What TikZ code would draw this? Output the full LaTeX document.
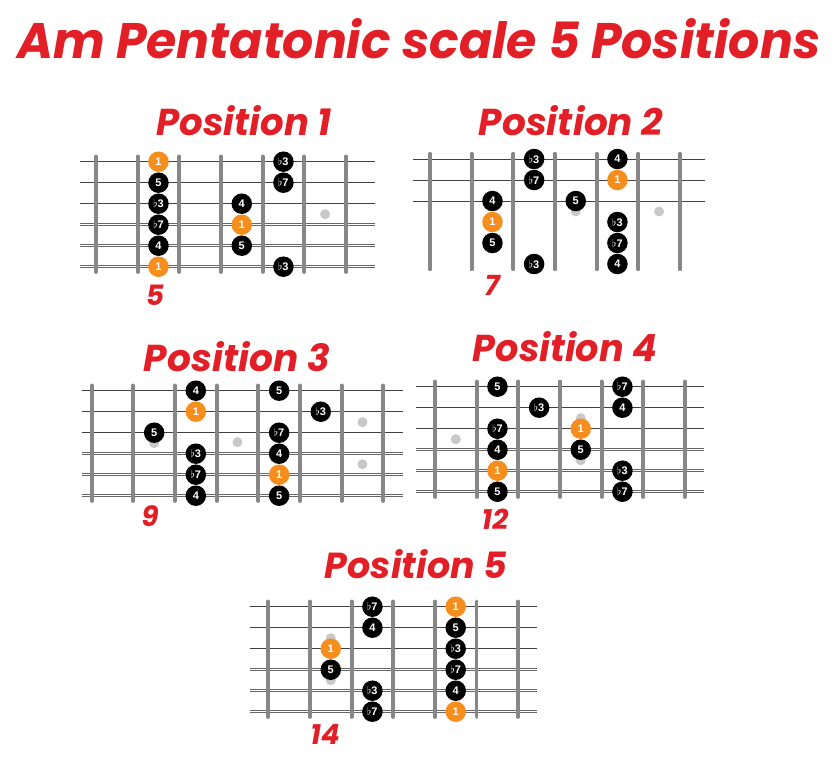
\documentclass[tikz,border=0pt]{standalone}
\usepackage{fontspec}
\setmainfont{Liberation Sans}
\newfontfamily\headfont{Poppins}
\definecolor{titlered}{RGB}{226,30,38}
\definecolor{rootorange}{RGB}{246,142,30}
\definecolor{fretgray}{RGB}{135,135,135}
\definecolor{inlaygray}{RGB}{200,200,200}
\newcommand{\redtext}[3]{\resizebox{#1}{#2}{\headfont\bfseries\itshape #3}}
\newcommand{\fl}[1]{$\flat$#1}
\newcommand{\fretboard}[3]{%
	\foreach \s in {0,1,2} \draw[gstring] (#1,\s) -- (#2,\s);
	\foreach \s in {3,4,5} \draw[wound] (#1,\s) -- (#2,\s);
	\foreach \f in {0,...,#3} \draw[fret] (\f,-0.25) -- (\f,5.25);
}
\tikzset{
	gstring/.style={line width=0.6pt, draw=black!75},
	wound/.style={line width=0.6pt, draw=black!60, double=white, double distance=1.5pt},
	fret/.style={line width=3.8pt, draw=fretgray, line cap=round},
	inlay/.style={fill=inlaygray},
	note/.style={circle, fill=black, text=white, inner sep=0pt, minimum size=20.5pt, font=\fontsize{11}{11}\selectfont\bfseries},
	rootnote/.style={note, fill=rootorange},
	heading/.style={text=titlered, inner sep=0pt, anchor=base},
	fretno/.style={text=titlered, inner sep=0pt, font=\headfont\bfseries\itshape\fontsize{28}{28}\selectfont}
}
\begin{document}
\begin{tikzpicture}[x=1pt, y=-1pt]
			%%%%% START %%%%%
			\useasboundingbox[fill=white] (0,0) rectangle (833,764);
			
			\node[heading, anchor=base west] (title) at (17,58) {\redtext{803pt}{40pt}{Am Pentatonic scale 5 Positions}};
			
			\node[heading] (headA) at (244,135) {\redtext{175pt}{30pt}{Position 1}};
			\node[heading] (headB) at (571,135) {\redtext{184pt}{30pt}{Position 2}};
			\node[heading] (headC) at (237,371) {\redtext{186pt}{30pt}{Position 3}};
			\node[heading] (headD) at (565,361) {\redtext{184pt}{30pt}{Position 4}};
			\node[heading] (headE) at (416,578) {\redtext{182pt}{29pt}{Position 5}};
			
			%%%%% POSITION 1 %%%%%
			\begin{scope}[shift={(96,161.7)}, x=41.65pt, y=-21pt]
				\fill[inlay] (5.5,2.5) circle (5pt);
				\fretboard{-0.38}{6.7}{6}
				\node[rootnote] (a1) at (1.5,0) {1};
				\node[note] (a2) at (4.5,0) {\fl3};
				\node[note] (a3) at (1.5,1) {5};
				\node[note] (a4) at (4.5,1) {\fl7};
				\node[note] (a5) at (1.5,2) {\fl3};
				\node[note] (a6) at (3.5,2) {4};
				\node[note] (a7) at (1.5,3) {\fl7};
				\node[rootnote] (a8) at (3.5,3) {1};
				\node[note] (a9) at (1.5,4) {4};
				\node[note] (a10) at (3.5,4) {5};
				\node[rootnote] (a11) at (1.5,5) {1};
				\node[note] (a12) at (4.5,5) {\fl3};
			\end{scope}
			\node[fretno] (numA) at (155,295) {5};
			
			%%%%% POSITION 2 %%%%%
			\begin{scope}[shift={(430,159)}, x=41.65pt, y=-21pt]
				\fill[inlay] (3.5,2.5) circle (5pt);
				\fill[inlay] (5.5,2.5) circle (5pt);
				\fretboard{-0.41}{6.6}{6}
				\node[note] (b1) at (2.5,0) {\fl3};
				\node[note] (b2) at (4.5,0) {4};
				\node[note] (b3) at (2.5,1) {\fl7};
				\node[rootnote] (b4) at (4.5,1) {1};
				\node[note] (b5) at (1.5,2) {4};
				\node[note] (b6) at (3.5,2) {5};
				\node[rootnote] (b7) at (1.5,3) {1};
				\node[note] (b8) at (4.5,3) {\fl3};
				\node[note] (b9) at (1.5,4) {5};
				\node[note] (b10) at (4.5,4) {\fl7};
				\node[note] (b11) at (2.5,5) {\fl3};
				\node[note] (b12) at (4.5,5) {4};
			\end{scope}
			\node[fretno] (numB) at (492,285) {7};
			
			%%%%% POSITION 3 %%%%%
			\begin{scope}[shift={(91.7,390.7)}, x=41.65pt, y=-21pt]
				\fill[inlay] (1.5,2.5) circle (5pt);
				\fill[inlay] (3.5,2.45) circle (5pt);
				\fill[inlay] (6.5,1.5) circle (5pt);
				\fill[inlay] (6.5,3.5) circle (5pt);
				\fretboard{-0.24}{7.47}{7}
				\node[note] (c1) at (2.5,0) {4};
				\node[note] (c2) at (4.5,0) {5};
				\node[rootnote] (c3) at (2.5,1) {1};
				\node[note] (c4) at (5.5,1) {\fl3};
				\node[note] (c5) at (1.5,2) {5};
				\node[note] (c6) at (4.5,2) {\fl7};
				\node[note] (c7) at (2.5,3) {\fl3};
				\node[note] (c8) at (4.5,3) {4};
				\node[note] (c9) at (2.5,4) {\fl7};
				\node[rootnote] (c10) at (4.5,4) {1};
				\node[note] (c11) at (2.5,5) {4};
				\node[note] (c12) at (4.5,5) {5};
			\end{scope}
			\node[fretno] (numC) at (150,516) {9};
			
			%%%%% POSITION 4 %%%%%
			\begin{scope}[shift={(435,386.7)}, x=41.65pt, y=-21pt]
				\fill[inlay] (0.5,2.5) circle (5pt);
				\fill[inlay] (3.5,1.5) circle (5pt);
				\fill[inlay] (3.5,3.5) circle (5pt);
				\fretboard{-0.46}{6.47}{6}
				\node[note] (d1) at (1.5,0) {5};
				\node[note] (d2) at (4.5,0) {\fl7};
				\node[note] (d3) at (2.5,1) {\fl3};
				\node[note] (d4) at (4.5,1) {4};
				\node[note] (d5) at (1.5,2) {\fl7};
				\node[rootnote] (d6) at (3.5,2) {1};
				\node[note] (d7) at (1.5,3) {4};
				\node[note] (d8) at (3.5,3) {5};
				\node[rootnote] (d9) at (1.5,4) {1};
				\node[note] (d10) at (4.5,4) {\fl3};
				\node[note] (d11) at (1.5,5) {5};
				\node[note] (d12) at (4.5,5) {\fl7};
			\end{scope}
			\node[fretno] (numD) at (495,519) {12};
			
			%%%%% POSITION 5 %%%%%
			\begin{scope}[shift={(268.3,606.7)}, x=41.65pt, y=-21pt]
				\fill[inlay] (1.5,1.5) circle (5pt);
				\fill[inlay] (1.5,3.5) circle (5pt);
				\fretboard{-0.45}{6.44}{6}
				\node[note] (e1) at (2.5,0) {\fl7};
				\node[rootnote] (e2) at (4.5,0) {1};
				\node[note] (e3) at (2.5,1) {4};
				\node[note] (e4) at (4.5,1) {5};
				\node[rootnote] (e5) at (1.5,2) {1};
				\node[note] (e6) at (4.5,2) {\fl3};
				\node[note] (e7) at (1.5,3) {5};
				\node[note] (e8) at (4.5,3) {\fl7};
				\node[note] (e9) at (2.5,4) {\fl3};
				\node[note] (e10) at (4.5,4) {4};
				\node[note] (e11) at (2.5,5) {\fl7};
				\node[rootnote] (e12) at (4.5,5) {1};
			\end{scope}
			\node[fretno] (numE) at (325,734) {14};
			
			%%%%% END %%%%%
\end{tikzpicture}
\end{document}
